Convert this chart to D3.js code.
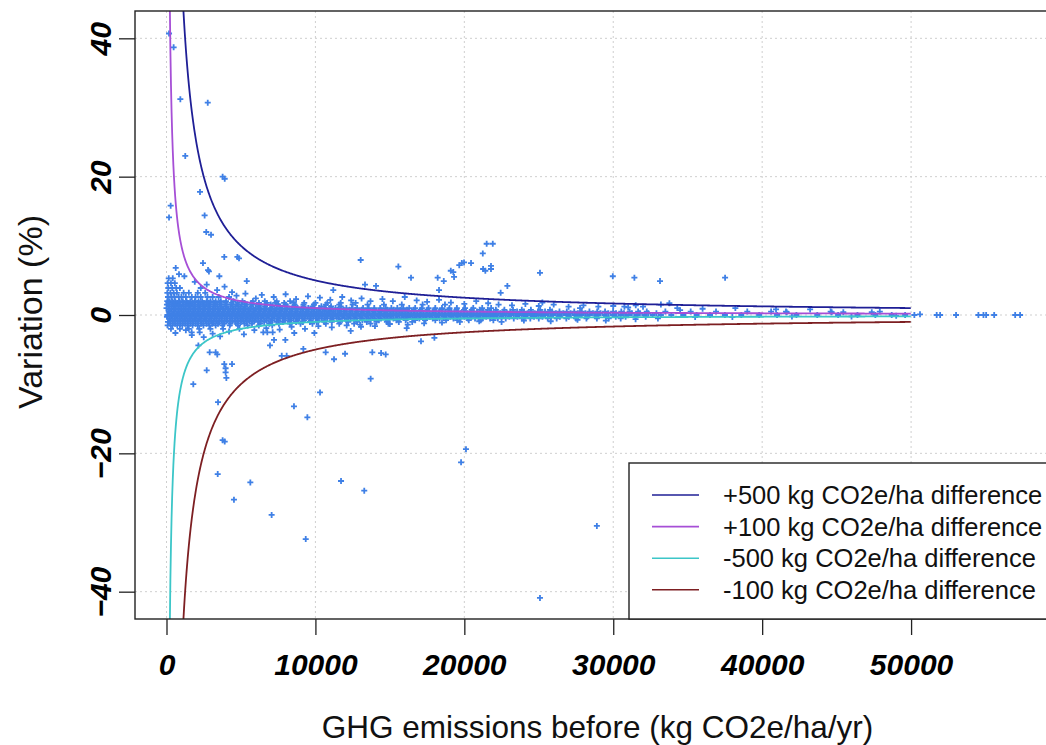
<!DOCTYPE html>
<html>
<head>
<meta charset="utf-8">
<script src="https://cdn.jsdelivr.net/npm/d3@7"></script>
<style>
  body { margin: 0; background: #fff; }
  svg { display: block; font-family: Arial, "Liberation Sans", sans-serif; }
</style>
</head>
<body>
<svg id="chart"></svg>
<script>
// axis ticks
const xTicks = [0, 10000, 20000, 30000, 40000, 50000];
const yTicks = [-40, -20, 0, 20, 40];

// reference curves: kg CO2e/ha difference, drawn as % of emissions before
const curveDiffs = [500, 100, -100, -500];
const curveColors = ["#1f1f96", "#a64fd6", "#3cc6c8", "#7d1f22"];

// legend as printed on the figure
const legendLabels = [
    "+500 kg CO2e/ha difference",
    "+100 kg CO2e/ha difference",
    "-500 kg CO2e/ha difference",
    "-100 kg CO2e/ha difference"
];
const legendColors = ["#1f1f96", "#a64fd6", "#3cc6c8", "#7d1f22"];

// isolated points [emissions before, variation %]
const outlierPoints = [
    [170, 40.7], [480, 38.7], [930, 31.2], [2770, 30.7], [1260, 23.0], [3770, 20.0], [3910, 19.7],
    [2250, 17.8], [280, 15.8], [170, 14.1], [2560, 14.4], [2670, 12.0], [2990, 11.6], [3880, 8.4],
    [4760, 8.4], [4870, 8.2], [620, 6.8], [840, 5.9], [2450, 7.5], [2790, 6.5], [2850, 6.3],
    [3550, 5.6], [5390, 4.9], [13040, 7.95], [15570, 7.0], [16420, 5.4], [11200, 3.6], [13330, 4.4],
    [14070, 4.2], [21500, 10.3], [21910, 10.3], [21240, 8.9], [21260, 6.65], [21410, 6.4], [21790, 7.1],
    [21790, 6.65], [19830, 7.5], [19980, 7.6], [19660, 7.2], [20450, 7.5], [19090, 6.4], [19260, 6.2],
    [19310, 5.5], [18210, 5.4], [18620, 4.9], [25080, 6.1], [29970, 5.6], [31420, 5.4], [33140, 4.9],
    [37510, 5.4], [22890, 4.2], [22440, 3.2], [18300, 3.6], [30750, 1.2], [31510, 1.4], [33770, 1.7],
    [27770, 1.0], [25240, 1.8], [34490, 0.7],
    [1690, -2.5], [2230, -2.5], [2140, -4.4], [2900, -5.4], [3300, -5.4], [3410, -5.7], [2700, -8.0],
    [3880, -7.1], [3970, -7.7], [3970, -8.3], [4020, -9.1], [4400, -7.1], [1800, -10.0], [3460, -12.6],
    [8560, -13.2], [9460, -14.8], [10310, -11.2], [13710, -9.2], [6950, -4.4], [6500, -2.5], [6770, -2.5],
    [7130, -2.5], [11250, -6.4], [11990, -5.6], [10690, -5.4], [13820, -5.4], [14410, -5.5], [14720, -5.7],
    [16130, -1.9], [17090, -3.8], [13060, -1.7], [8580, -2.6], [9930, -2.6], [12370, -2.3], [9190, -4.9],
    [7220, -3.6], [7980, -3.6], [7740, -5.9], [8070, -5.9], [17990, -3.3],
    [3770, -18.1], [3910, -18.3], [3440, -23.0], [5630, -24.2], [4530, -26.7], [7060, -28.9], [9350, -32.4],
    [11720, -24.0], [13280, -25.4], [20110, -19.4], [19780, -21.3], [28900, -30.5], [25080, -40.9],
    [50220, 0], [50600, 0.1], [51720, 0], [51950, 0], [53020, 0], [54520, 0], [54860, 0], [55040, 0],
    [55580, 0], [56990, 0], [57320, 0]
];

// ragged edges of the dense band
const fringePoints = [
    [4700, 2.8], [5300, 3.1], [6000, 2.4], [6400, 2.9], [7200, 2.6], [8000, 3.0], [8700, 2.3], [9500, 2.7],
    [10300, 2.5], [11000, 2.2], [11800, 2.6], [12400, 2.1], [13100, 2.4], [13700, 2.0], [14500, 2.3],
    [15200, 2.0], [16000, 2.6], [16800, 2.1], [17500, 1.9], [18300, 2.2], [19100, 1.8], [20000, 1.6],
    [20800, 2.0], [21600, 1.7], [22300, 1.5], [23200, 1.4], [24100, 1.6], [25000, 1.3], [26000, 1.5],
    [27000, 1.2], [28000, 1.4], [29000, 1.2], [30000, 1.3], [31000, 1.1], [32000, 1.2], [33200, 1.5],
    [34300, 1.0], [36000, 0.9], [38200, 1.0], [40600, 0.5], [40930, 0.8], [43220, 0.8], [44670, 0.4],
    [45450, 0.4], [47360, 0.4], [41650, 0.4], [3400, 3.6], [3900, 4.1], [2700, 4.4], [1900, 4.8],
    [1200, 5.6], [2300, 3.9], [4400, 3.3],
    [600, -2.6], [1300, -2.2], [1700, -2.9], [2500, -3.2], [3100, -2.7], [3600, -3.1], [4200, -2.4],
    [5200, -2.8], [5900, -2.2], [6700, -1.9], [7600, -2.1], [8400, -1.7], [9300, -2.0], [10200, -1.6],
    [11100, -1.8], [12100, -1.5], [13000, -1.4], [14000, -1.6], [15000, -1.3], [16200, -1.4], [17300, -1.2],
    [18500, -1.1], [19700, -1.0], [21000, -0.9], [22500, -1.0], [24000, -0.8], [25800, -0.9], [27600, -0.7],
    [29500, -0.8], [31500, -0.6], [33000, -0.5], [35500, -0.3], [38000, -0.3], [42000, -0.2], [46000, -0.2],
    [49000, -0.1]
];

// dense band near zero, one row of x values per variation level
const bandLevels = [5.3, 4.6, 3.9, 3.2, 2.6, 2.0, 1.75, 1.5, 1.25, 1.0, 0.75, 0.5, 0.25, 0.0,
    -0.25, -0.5, -0.75, -1.0, -1.25, -1.5, -2.0];
const bandRowX = [
    [150, 420],
    [80, 300, 560],
    [120, 380, 650, 900],
    [60, 260, 480, 700, 1150, 1500, 2100, 2600],
    [100, 330, 540, 820, 1000, 1300, 1700, 1950, 2300, 2750, 3100, 3500, 4200],
    [50, 200, 400, 600, 850, 1100, 1350, 1600, 1900, 2150, 2400, 2700, 2950, 3300, 3650, 4000, 4500, 5100,
        5800, 6600, 7400, 8300],
    [120, 440, 760, 1090, 1420, 1760, 2100, 2450, 2810, 3180, 3560, 3950, 4360, 4790, 5240, 5710, 6210,
        6740, 7300, 7900, 8550, 9250, 10000, 10800, 11700, 12700],
    [30, 180, 350, 520, 700, 900, 1100, 1300, 1500, 1700, 1900, 2100, 2300, 2500, 2700, 2900, 3150, 3400,
        3700, 4000, 4350, 4700, 5050, 5400, 5800, 6200, 6600, 7000, 7500, 8000, 8600, 9200, 9900, 10700,
        11600, 12500, 13500, 14600, 15800, 17200, 18700],
    [170, 500, 830, 1170, 1520, 1860, 2200, 2560, 2920, 3280, 3660, 4050, 4450, 4850, 5270, 5700, 6150,
        6620, 7100, 7600, 8120, 8650, 9200, 9800, 10400, 11050, 11700],
    [0, 320, 610, 980, 1300, 1620, 1950, 2280, 2600, 2950, 3280, 3600, 3950, 4300, 4620, 4980, 5300, 5650,
        6000, 6340, 6700, 7050, 7400, 7760, 8100, 8450, 8800, 9150, 9520, 9880, 10250, 10600, 10980, 11350,
        11700, 12080, 12450, 12800, 13200, 13580, 13950, 14350, 14720, 15100, 15500, 15900, 16300, 16700,
        17150, 17600, 18050, 18500, 19000, 19500, 20050, 20600, 21200, 21800],
    [160, 470, 790, 1140, 1470, 1800, 2130, 2470, 2800, 3130, 3460, 3800, 4140, 4480, 4830, 5180, 5520,
        5880, 6230, 6590, 6950, 7310, 7680, 8050, 8420, 8790, 9170, 9550, 9930, 10320, 10710, 11100, 11500,
        11900, 12300, 12710, 13120, 13540, 13960, 14390, 14820, 15260, 15700, 16150, 16600, 17060, 17520,
        18000, 18480, 18970, 19470, 19980, 20500, 21030, 21570, 22120, 22690, 23270, 23860, 24470, 25100,
        25750],
    [150, 480, 800, 1120, 1450, 1790, 2120, 2440, 2780, 3120, 3450, 3780, 4120, 4460, 4800, 5140, 5480, 5820,
        6170, 6520, 6870, 7220, 7580, 7930, 8290, 8650, 9010, 9370, 9740, 10100, 10480, 10850, 11220, 11600,
        11980, 12360, 12740, 13120, 13500, 13890, 14280, 14670, 15060, 15460, 15860, 16260, 16660, 17070,
        17480, 17890, 18300, 18720, 19140, 19560, 19990, 20420, 20850, 21290, 21730, 22180, 22630, 23080,
        23540, 24000, 24470, 24940, 25420, 25900, 26390, 26880, 27380, 27890, 28400, 28920, 29450, 29990,
        30540, 31100, 31670, 32250, 33500, 35200, 36900, 39000, 41600, 44600, 47900],
    [220, 550, 880, 1200, 1530, 1860, 2180, 2520, 2860, 3190, 3530, 3870, 4210, 4550, 4890, 5230, 5580,
        5930, 6280, 6630, 6980, 7330, 7680, 8040, 8400, 8760, 9120, 9490, 9860, 10230, 10600, 10970, 11340,
        11720, 12100, 12480, 12860, 13250, 13640, 14030, 14420, 14820, 15220, 15620, 16020, 16430, 16840,
        17250, 17660, 18080, 18500, 18920, 19340, 19770, 20200, 20630, 21070, 21510, 21960, 22410, 22860,
        23320, 23780, 24250, 24720, 25190, 25670, 26150, 26640, 27130, 27630, 28130, 28640, 29150, 29670,
        30190, 30720, 31250, 31790, 32340, 32900],
    [60, 380, 700, 1030, 1360, 1690, 2010, 2350, 2690, 3020, 3360, 3700, 4040, 4380, 4720, 5060, 5400, 5750,
        6100, 6450, 6800, 7150, 7500, 7860, 8220, 8580, 8940, 9300, 9670, 10040, 10410, 10780, 11150, 11530,
        11910, 12290, 12670, 13060, 13450, 13840, 14230, 14620, 15020, 15420, 15820, 16220, 16630, 17040,
        17450, 17860, 18280, 18700, 19120, 19550, 19980, 20410, 20850, 21290, 21730, 22180, 22630, 23090,
        23550, 24010, 24480, 24950, 25430, 25910, 26400, 26890, 27390, 27890, 28400, 28910, 29430, 29950,
        30480, 31010, 31550, 32090, 32640, 33200, 33900, 34700, 35600, 36500, 37500, 38600, 39800, 41000,
        42300, 43700, 45100, 46400, 47600, 48700, 49600],
    [30, 360, 690, 1020, 1350, 1680, 2010, 2350, 2690, 3030, 3370, 3710, 4050, 4400, 4750, 5100, 5450, 5800,
        6160, 6520, 6880, 7240, 7610, 7980, 8350, 8720, 9100, 9480, 9860, 10240, 10630, 11020, 11410, 11800,
        12200, 12600, 13000, 13410, 13820, 14230, 14650, 15070, 15490, 15920, 16350, 16790, 17230, 17680,
        18130, 18590, 19050, 19520, 20000, 20480, 20970, 21470, 21980, 22500, 23030, 23570, 24120, 24680,
        25250, 25830, 26420, 27020, 27630, 28250, 28880, 29520, 30170, 30830, 31500, 32180],
    [200, 540, 870, 1200, 1540, 1880, 2210, 2550, 2890, 3230, 3570, 3910, 4260, 4600, 4950, 5300, 5650, 6000,
        6360, 6720, 7080, 7440, 7800, 8170, 8540, 8910, 9280, 9660, 10040, 10420, 10800, 11190, 11580, 11970,
        12370, 12770, 13170, 13580, 13990, 14400, 14820, 15240, 15670, 16100, 16540, 16980, 17430, 17880,
        18340, 18800, 19270, 19750, 20230, 20720, 21220, 21730, 22250, 22780, 23320, 23870, 24430, 25000,
        25600, 26200, 26850, 27500, 28200, 28900, 29700, 30500],
    [260, 590, 930, 1270, 1610, 1950, 2300, 2650, 3000, 3350, 3710, 4070, 4430, 4800, 5170, 5550, 5930,
        6320, 6710, 7110, 7520, 7940, 8370, 8800, 9240, 9690, 10150, 10620, 11100, 11600, 12100, 12620,
        13150, 13700, 14260, 14840, 15440, 16060, 16700, 17360, 18050, 18770, 19520, 20300, 21100, 21950],
    [100, 430, 760, 1100, 1440, 1780, 2120, 2470, 2820, 3170, 3530, 3890, 4250, 4620, 5000, 5380, 5770, 6160,
        6560, 6970, 7390, 7820, 8260, 8700, 9160, 9630, 10100, 10600, 11100, 11650, 12200, 12800, 13450,
        14100, 14800, 15600, 16500],
    [250, 580, 920, 1260, 1610, 1960, 2320, 2690, 3070, 3460, 3870, 4300, 4750, 5230, 5740, 6300, 6900,
        7550, 8300, 9000, 9800, 10700, 11600, 12600, 13700, 14900],
    [80, 400, 720, 1060, 1400, 1750, 2100, 2480, 2870, 3300, 3750, 4250, 4800, 5450, 6200, 7100],
    [300, 900, 1500, 2200, 2950, 3800, 4900]
];

const width = 1046, height = 745;
const margin = {left: 135, top: 11, bottom: 126};
const plotRight = 1060;   // frame runs past the picture edge, as in the source figure

const svg = d3.select("#chart")
    .attr("width", width)
    .attr("height", height);

svg.append("rect").attr("width", width).attr("height", height).attr("fill", "#fff");

const x = d3.scaleLinear()
    .domain([-2115, 60000])
    .range([margin.left, plotRight]);

const y = d3.scaleLinear()
    .domain([-43.95, 43.95])
    .range([height - margin.bottom, margin.top]);

const plotTop = margin.top, plotBottom = height - margin.bottom;

svg.append("defs").append("clipPath")
    .attr("id", "plot-clip")
    .append("rect")
    .attr("x", margin.left)
    .attr("y", plotTop)
    .attr("width", plotRight - margin.left)
    .attr("height", plotBottom - plotTop);

// dotted grid
const grid = svg.append("g").attr("class", "grid")
    .attr("stroke", "#cfcfcf")
    .attr("stroke-width", 1)
    .attr("stroke-dasharray", "2,3");

grid.selectAll(".gx").data(xTicks).join("line")
    .attr("x1", d => x(d)).attr("x2", d => x(d))
    .attr("y1", plotTop).attr("y2", plotBottom);

grid.selectAll(".gy").data(yTicks).join("line")
    .attr("x1", margin.left).attr("x2", plotRight)
    .attr("y1", d => y(d)).attr("y2", d => y(d));

// points
const points = outlierPoints.concat(fringePoints);
bandLevels.forEach((lvl, i) => {
    bandRowX[i].forEach(v => points.push([v, lvl]));
});

svg.append("g")
    .attr("clip-path", "url(#plot-clip)")
    .selectAll("path")
    .data(points)
    .join("path")
    .attr("transform", d => `translate(${x(d[0])},${y(d[1])})`)
    .attr("d", "M-3,0H3M0,-3V3")
    .attr("stroke", "#3f80e6")
    .attr("stroke-width", 1.8)
    .attr("fill", "none");

// reference curves
const curveX = d3.range(60, 50001, 40);
const line = d3.line()
    .x(d => x(d[0]))
    .y(d => y(d[1]));

svg.append("g")
    .attr("clip-path", "url(#plot-clip)")
    .selectAll("path")
    .data(curveDiffs)
    .join("path")
    .attr("d", diff => line(curveX.map(v => [v, diff / v * 100])))
    .attr("fill", "none")
    .attr("stroke", (d, i) => curveColors[i])
    .attr("stroke-width", 1.8);

// frame
svg.append("rect")
    .attr("x", margin.left)
    .attr("y", plotTop)
    .attr("width", plotRight - margin.left)
    .attr("height", plotBottom - plotTop)
    .attr("fill", "none")
    .attr("stroke", "#222")
    .attr("stroke-width", 1.4);

// x axis
const xAxis = d3.axisBottom(x)
    .tickValues(xTicks)
    .tickFormat(d3.format("d"))
    .tickSize(16)
    .tickPadding(19);

const xAxisG = svg.append("g")
    .attr("transform", `translate(0,${plotBottom})`)
    .call(xAxis);
xAxisG.select(".domain").remove();
xAxisG.selectAll(".tick line").attr("stroke", "#222").attr("stroke-width", 1.3);
xAxisG.selectAll(".tick text")
    .attr("fill", "#000")
    .style("font-family", "Arial, 'Liberation Sans', sans-serif")
    .style("font-size", "30px")
    .style("font-weight", "bold")
    .style("font-style", "italic");

// y axis, labels parallel to the axis
const yAxis = d3.axisLeft(y)
    .tickValues(yTicks)
    .tickFormat(d3.format("d"))
    .tickSize(16);

const yAxisG = svg.append("g")
    .attr("transform", `translate(${margin.left},0)`)
    .call(yAxis);
yAxisG.select(".domain").remove();
yAxisG.selectAll(".tick line").attr("stroke", "#222").attr("stroke-width", 1.3);
yAxisG.selectAll(".tick text")
    .attr("x", null).attr("dy", null)
    .attr("transform", "translate(-24,0) rotate(-90)")
    .attr("text-anchor", "middle")
    .attr("fill", "#000")
    .style("font-family", "Arial, 'Liberation Sans', sans-serif")
    .style("font-size", "30px")
    .style("font-weight", "bold")
    .style("font-style", "italic");

// axis titles
svg.append("text")
    .attr("x", (margin.left + plotRight) / 2)
    .attr("y", 738)
    .attr("text-anchor", "middle")
    .style("font-size", "31.5px")
    .attr("fill", "#111")
    .text("GHG emissions before (kg CO2e/ha/yr)");

svg.append("text")
    .attr("transform", `translate(42,${(plotTop + plotBottom) / 2 - 3}) rotate(-90)`)
    .attr("text-anchor", "middle")
    .style("font-size", "34px")
    .attr("fill", "#111")
    .text("Variation (%)");

// legend, bottom right inside the plot
const legendBox = {left: 629, top: 463};
const legend = svg.append("g");

legend.append("rect")
    .attr("x", legendBox.left)
    .attr("y", legendBox.top)
    .attr("width", plotRight - legendBox.left)
    .attr("height", plotBottom - legendBox.top)
    .attr("fill", "#fff")
    .attr("stroke", "#222")
    .attr("stroke-width", 1.4);

const rowY = i => legendBox.top + 32 + i * 31.6;

legend.selectAll("line")
    .data(legendLabels)
    .join("line")
    .attr("x1", 652).attr("x2", 699)
    .attr("y1", (d, i) => rowY(i)).attr("y2", (d, i) => rowY(i))
    .attr("stroke", (d, i) => legendColors[i])
    .attr("stroke-width", 1.6);

legend.selectAll("text")
    .data(legendLabels)
    .join("text")
    .attr("x", 723)
    .attr("y", (d, i) => rowY(i))
    .attr("dy", "0.35em")
    .style("font-size", "25.5px")
    .attr("fill", "#111")
    .text(d => d);
</script>
</body>
</html>
